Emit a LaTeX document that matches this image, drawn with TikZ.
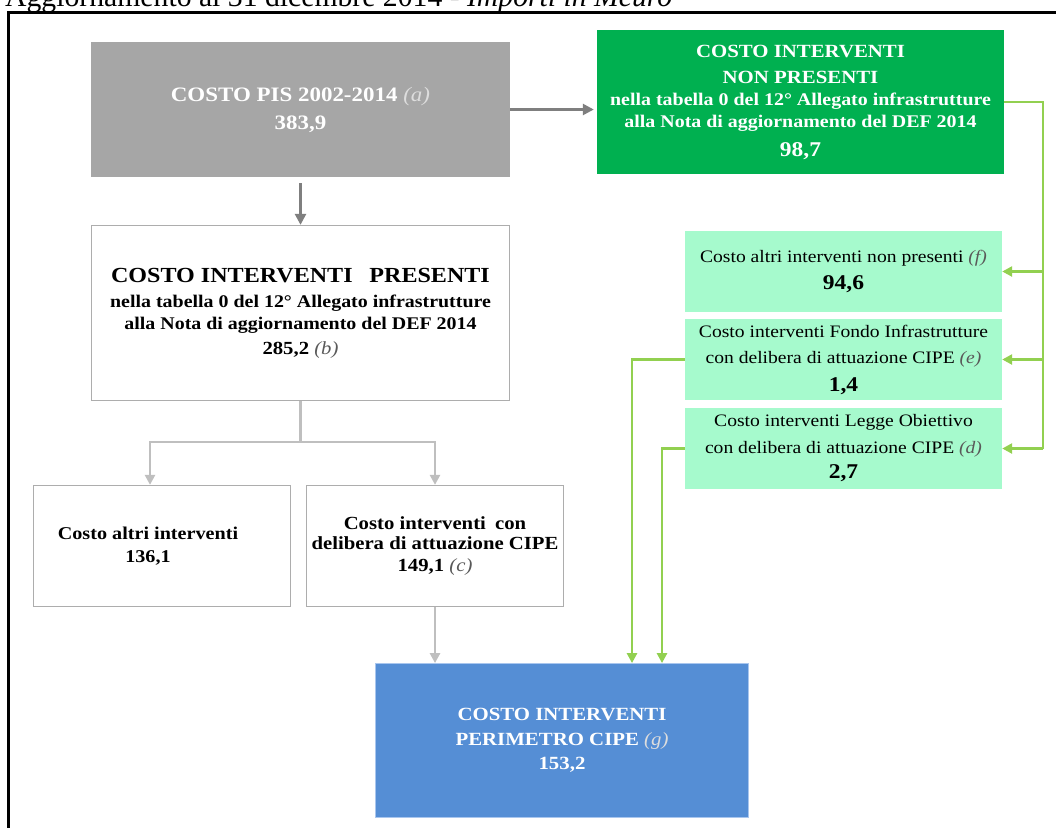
\documentclass[tikz,border=0pt]{standalone}
\usepackage{fontspec}
\setmainfont{Liberation Serif}[FakeStretch=1.12]
\newfontfamily\titlefont{Liberation Serif}
\usetikzlibrary{arrows.meta}
\definecolor{pisgray}{HTML}{A6A6A6}
\definecolor{darkg}{HTML}{7F7F7F}
\definecolor{lightg}{HTML}{BFBFBF}
\definecolor{bordg}{HTML}{ADADAD}
\definecolor{npgreen}{HTML}{00B050}
\definecolor{mint}{HTML}{A6FACD}
\definecolor{lgreen}{HTML}{92D050}
\definecolor{cipeblue}{HTML}{558ED5}
\definecolor{bluebord}{HTML}{A9C6EE}
\definecolor{itgray}{HTML}{595959}
\definecolor{itlight}{HTML}{DDDDDD}
\tikzset{
  cell/.style={rectangle, inner sep=0pt, align=center},
  pisbox/.style={cell, fill=pisgray, text=white, minimum width=419pt, minimum height=135pt,
    font=\bfseries\fontsize{20.5}{28}\selectfont},
  npbox/.style={cell, fill=npgreen, text=white, minimum width=407pt, minimum height=144pt,
    font=\bfseries\fontsize{18.6}{24}\selectfont},
  presbox/.style={cell, fill=white, draw=bordg, line width=1.3pt, minimum width=418pt, minimum height=175pt,
    font=\bfseries\fontsize{17.8}{25}\selectfont},
  lowbox/.style={cell, fill=white, draw=bordg, line width=1.3pt, minimum width=257pt, minimum height=121pt,
    font=\bfseries\fontsize{18}{23}\selectfont},
  mintbox/.style={cell, fill=mint, minimum width=317pt, minimum height=81pt,
    font=\fontsize{17.5}{27}\selectfont},
  bluebox/.style={cell, fill=cipeblue, draw=bluebord, line width=0.8pt, minimum width=373pt, minimum height=154pt,
    text=white, font=\bfseries\fontsize{18.6}{24.5}\selectfont},
  darr/.style={draw=darkg, line width=2.5pt, -{Triangle[length=11pt,width=11pt]}},
  larr/.style={draw=lightg, line width=2.5pt, -{Triangle[length=10pt,width=10pt]}},
  garr/.style={draw=lgreen, line width=2.5pt, -{Triangle[length=10pt,width=10pt]}},
  gline/.style={draw=lgreen, line width=2.5pt},
}
\newcommand{\itnote}[2]{{\mdseries\itshape\color{#1}(#2)}}
\begin{document}
\begin{tikzpicture}[x=1pt,y=-1pt]
\useasboundingbox (0,0) rectangle (1056,827);
% title (mostly cut off at the top, as in the reference)
\node[anchor=base west, inner sep=0pt, font=\titlefont\fontsize{29.7}{30}\selectfont] (title) at (5,6)
  {Aggiornamento al 31 dicembre 2014 - \textit{Importi in Meuro}};
% frame
\draw[line width=2.5pt] (1070,12.5) -- (8.5,12.5) -- (8.5,840);

% boxes
\node[pisbox] (pis) at (300.5,109.5) {COSTO PIS 2002-2014 \itnote{itlight}{a}\\383,9};
\node[npbox] (np) at (800.5,102) {COSTO INTERVENTI\\[2pt]NON PRESENTI\\[-2pt]%
  {\fontsize{17.8}{24}\selectfont nella tabella 0 del 12° Allegato infrastrutture}\\[-2pt]%
  {\fontsize{17.8}{24}\selectfont alla Nota di aggiornamento del DEF 2014}\\[5pt]%
  {\fontsize{21}{24}\selectfont 98,7}};
\node[presbox] (pres) at (300.5,313) {{\fontsize{21.5}{25}\selectfont COSTO INTERVENTI\hspace{0.5em} PRESENTI}\\%
  nella tabella 0 del 12° Allegato infrastrutture\\[-3pt]%
  alla Nota di aggiornamento del DEF 2014\\%
  {\fontsize{18.5}{25}\selectfont 285,2 \itnote{itgray}{b}}};
\node[lowbox] (alt) at (162,546) {Costo altri interventi\hspace*{28pt}\\136,1\hspace*{28pt}};
\node[lowbox, font=\bfseries\fontsize{18.5}{21}\selectfont] (delib) at (435,546)
  {Costo interventi\hspace{0.5em}con\\[-1pt]delibera di attuazione CIPE\\[1pt]149,1 \itnote{itgray}{c}};
\node[mintbox] (f) at (843.5,271.5) {Costo altri interventi non presenti \itnote{itgray}{f}\\%
  {\bfseries\fontsize{21}{27}\selectfont 94,6}};
\node[mintbox, font=\fontsize{17.5}{26}\selectfont] (e) at (843.5,359.5) {Costo interventi Fondo Infrastrutture\\%
  con delibera di attuazione CIPE \itnote{itgray}{e}\\[2pt]{\bfseries\fontsize{21}{26}\selectfont 1,4}};
\node[mintbox] (d) at (843.5,448.5) {Costo interventi Legge Obiettivo\\%
  con delibera di attuazione CIPE \itnote{itgray}{d}\\[-2pt]{\bfseries\fontsize{21}{27}\selectfont 2,7}};
\node[bluebox] (blue) at (562,740.5) {COSTO INTERVENTI\\PERIMETRO CIPE \itnote{itlight}{g}\\153,2};

% connectors
\draw[darr, shorten >=3pt] (pis.east) -- (pis.east -| np.west);
\draw[darr, shorten <=6pt] (pis.south) -- (pres.north);
\coordinate (split) at (300.5,442);
\draw[larr] (pres.south) -- (split) -| ([xshift=-12pt]alt.north);
\draw[larr] (split) -| (delib.north);
\draw[larr] (delib.south) -- (delib.south |- blue.north);
\coordinate (gv) at (1043,102);
\draw[gline] (np.east) -- (gv) -- (gv |- d.east);
\draw[garr] (gv |- f.east) -- (f.east);
\draw[garr] (gv |- e.east) -- (e.east);
\draw[garr] (gv |- d.east) -- (d.east);
\draw[garr] (e.west) -| ([xshift=70pt]blue.north);
\draw[garr] (d.west) -| ([xshift=100pt]blue.north);
\end{tikzpicture}
\end{document}
